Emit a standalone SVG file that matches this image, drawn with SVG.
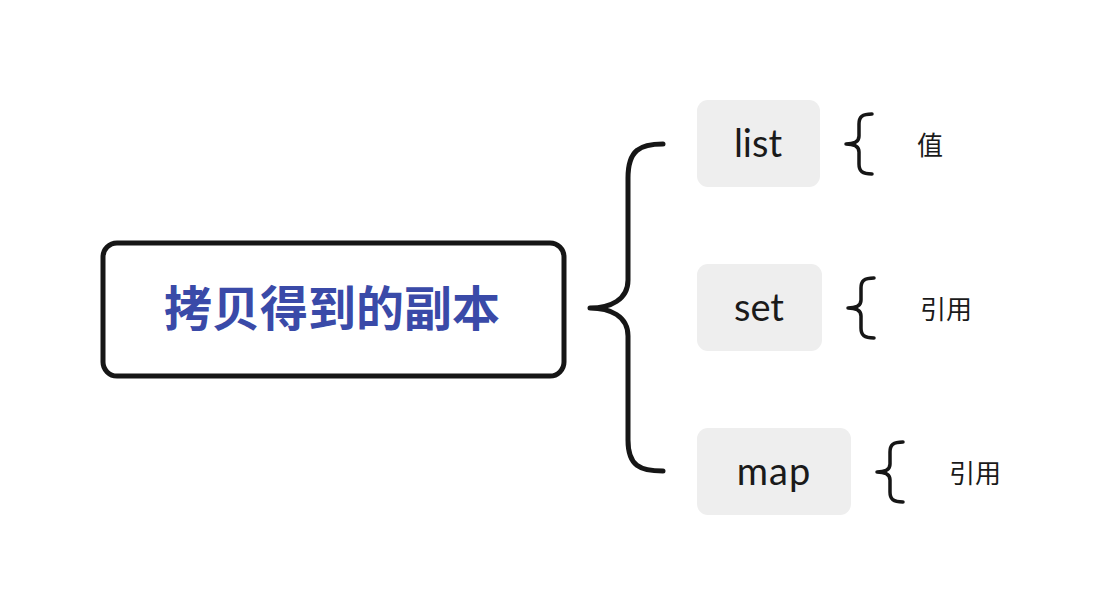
<svg xmlns="http://www.w3.org/2000/svg" width="1116" height="616" viewBox="0 0 1116 616">
<style>
.brace{fill:none;stroke:#161616;stroke-width:5;stroke-linecap:round;stroke-linejoin:round}
.small{fill:none;stroke:#161616;stroke-width:3.5;stroke-linecap:round;stroke-linejoin:round}
.leaf{fill:#eeeeee}
.en{font-family:Lato,"Noto Sans",sans-serif;font-size:38px;fill:#1a1a1a;text-anchor:middle;dominant-baseline:central}
.cn{font-family:"Noto Sans CJK SC",sans-serif;font-size:26px;fill:#1a1a1a;text-anchor:middle;dominant-baseline:central}
</style>
<rect width="1116" height="616" fill="#ffffff"/>
<g id="root">
<rect x="103" y="243" width="461" height="133" rx="14" fill="#ffffff" stroke="#161616" stroke-width="5"/>
<text x="332" y="305" font-family="'Noto Sans CJK SC',sans-serif" font-size="48" font-weight="bold" fill="#3a4aa8" text-anchor="middle" dominant-baseline="central">拷贝得到的副本</text>
</g>
<g id="connectors">
<path class="brace" d="M663 144 C640 144 628 150 628 178 L628 280 C628 300 610 308 590 308 C610 308 628 316 628 336 L628 440 C628 466 640 471 663 471"/>
<path class="small" d="M872 114 C862 114 859 117 859 124 L859 136 C859 141 855 144 846 144 C855 144 859 147 859 152 L859 164 C859 171 862 174 872 174"/>
<path class="small" d="M874 278 C864 278 861 281 861 288 L861 300 C861 305 857 308 848 308 C857 308 861 311 861 316 L861 328 C861 335 864 338 874 338"/>
<path class="small" d="M903 442 C893 442 890 445 890 452 L890 464 C890 469 886 472 877 472 C886 472 890 475 890 480 L890 492 C890 499 893 502 903 502"/>
</g>
<g id="list">
<rect class="leaf" x="697" y="100" width="123" height="87" rx="11"/>
<text class="en" x="758" y="142">list</text>
</g>
<g id="set">
<rect class="leaf" x="697" y="264" width="125" height="87" rx="11"/>
<text class="en" x="759" y="306">set</text>
</g>
<g id="map">
<rect class="leaf" x="697" y="428" width="154" height="87" rx="11"/>
<text class="en" x="774" y="470" letter-spacing="1">map</text>
</g>
<g id="val">
<text class="cn" x="930" y="143">值</text>
</g>
<g id="ref1">
<text class="cn" x="946" y="307">引用</text>
</g>
<g id="ref2">
<text class="cn" x="975" y="471">引用</text>
</g>
</svg>
